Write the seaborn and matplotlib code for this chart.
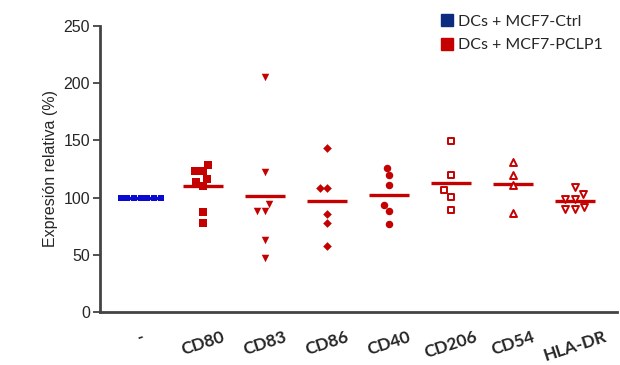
import numpy as np
import pandas as pd
import seaborn as sns
import matplotlib.pyplot as plt
from matplotlib.lines import Line2D

# values (% relative expression)
categories = ['-', 'CD80', 'CD83', 'CD86', 'CD40', 'CD206', 'CD54', 'HLA-DR']
ctrl = [100, 100, 100, 100, 100, 100, 100]
cd80 = [123.5, 123.5, 128.5, 116, 114, 110.5, 87, 78]
cd83 = [205, 122, 94, 88.6, 88.6, 63, 47]
cd86 = [143.4, 108.7, 108.7, 85.7, 77.8, 57.7]
cd40 = [126.2, 119.8, 111, 93.8, 88.6, 76.9]
cd206 = [149.5, 119.5, 106.4, 100.8, 89.4]
cd54 = [131, 120, 111.3, 86.8]
hladr = [109, 102.9, 99, 99, 91.5, 90, 90]

groups = [ctrl, cd80, cd83, cd86, cd40, cd206, cd54, hladr]
markers = ['s', 's', 'v', 'D', 'o', 's', '^', 'v']
filled = [True, True, True, True, True, False, False, False]

blue = '#0a0ad0'
red = '#c40000'

rows = []
for cat, vals in zip(categories, groups):
    for v in vals:
        rows.append({'marker': cat, 'value': v})
df = pd.DataFrame(rows)

sns.set_style('white')
plt.rcParams['font.family'] = ['Liberation Sans', 'DejaVu Sans']

fig = plt.figure(figsize=(6.2, 3.65), dpi=100)
ax = fig.add_axes([0.161, 0.145, 0.834, 0.784])

for i, cat in enumerate(categories):
    sub = df[df['marker'] == cat]
    col = blue if i == 0 else red
    size = 5.4
    if markers[i] == 'D':
        size = 4.4
    if i == 0:
        size = 4.6
    if filled[i]:
        sns.swarmplot(data=sub, x='marker', y='value', order=categories, ax=ax,
                      marker=markers[i], color=col, size=size, linewidth=0)
    else:
        sns.swarmplot(data=sub, x='marker', y='value', order=categories, ax=ax,
                      marker=markers[i], color='white', edgecolor=col,
                      size=size - 0.4, linewidth=1.4)

# mean lines
means = df.groupby('marker', sort=False)['value'].mean()
for i, cat in enumerate(categories):
    col = blue if i == 0 else red
    ax.hlines(means[cat], i - 0.32, i + 0.32, color=col, lw=2.4, zorder=1)

ax.set_xlim(-0.66, 7.68)
ax.set_ylim(0, 250)
ax.set_yticks([0, 50, 100, 150, 200, 250])
ax.set_xlabel('')
ax.set_ylabel('Expresión relativa (%)', fontsize=11.5)
ax.tick_params(axis='y', labelsize=11.5, length=5, width=1.2, color='#333333',
               direction='out', left=True, pad=2)
ax.tick_params(axis='x', length=0, pad=12)
ax.set_xticks(range(len(categories)))
ax.set_xticklabels(categories, rotation=18, fontsize=12.5, fontweight='bold',
                   family=['Lato', 'DejaVu Sans'], ha='center')

sns.despine(ax=ax)
for s in ['left', 'bottom']:
    ax.spines[s].set_color('#444444')
    ax.spines[s].set_linewidth(2)

handles = [
    Line2D([], [], marker='s', ls='', color='#0b2a80', markersize=9),
    Line2D([], [], marker='s', ls='', color=red, markersize=9),
]
leg = ax.legend(handles, ['DCs + MCF7-Ctrl', 'DCs + MCF7-PCLP1'],
                loc='upper right', bbox_to_anchor=(1.0, 1.09), frameon=False,
                handlelength=0.8, handletextpad=0.3, labelspacing=0.6,
                prop={'family': ['Lato', 'DejaVu Sans'], 'size': 11.5})

fig.savefig('out.png', dpi=100)
